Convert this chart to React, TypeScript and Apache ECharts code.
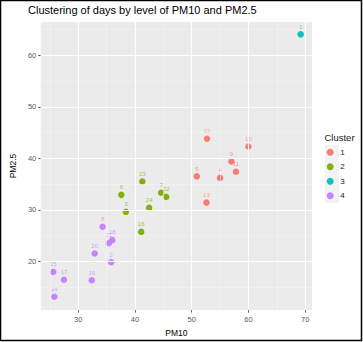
import React, { useEffect, useRef } from "react";
import * as echarts from "echarts";

const dayIds = ["1","2","3","4","5","6","7","8","9","10","11","12","13","14","15","16","17","18","19","20","21","22","23","24"];
const pm10 = [69.2, 35.8, 38.4, 55.0, 50.9, 37.6, 44.6, 34.3, 57.0, 60.0, 57.8, 52.7, 52.6, 25.8, 25.6, 41.1, 27.5, 36.0, 32.4, 32.9, 35.4, 45.5, 41.3, 42.5];
const pm25 = [64.1, 19.8, 29.6, 36.2, 36.5, 32.9, 33.3, 26.7, 39.4, 42.3, 37.4, 43.8, 31.4, 13.1, 17.9, 25.7, 16.4, 24.1, 16.3, 21.5, 23.5, 32.5, 35.5, 30.4];
const cluster = [3, 4, 2, 1, 1, 2, 2, 4, 1, 1, 1, 1, 1, 4, 4, 2, 4, 4, 4, 4, 4, 2, 2, 2];
const clusterNames = ["1", "2", "3", "4"];
const clusterColors = ["#F8766D", "#7CAE00", "#00BFC4", "#C77CFF"];
const xMajor = [30, 40, 50, 60, 70];
const xMinor = [25, 35, 45, 55, 65];
const yMajor = [20, 30, 40, 50, 60];
const yMinor = [15, 25, 35, 45, 55, 65];

const FONT = "Liberation Sans, Arial, sans-serif";

function hexA(hex: string, a: number) {
  const r = parseInt(hex.slice(1, 3), 16);
  const g = parseInt(hex.slice(3, 5), 16);
  const b = parseInt(hex.slice(5, 7), 16);
  return `rgba(${r},${g},${b},${a})`;
}

export default function App() {
  const ref = useRef<HTMLDivElement>(null);
  useEffect(() => {
    if (!ref.current) return;
    const chart = echarts.init(ref.current, undefined, { renderer: "svg" });

    const gridLines: any[] = [];
    xMinor.forEach((v) => gridLines.push({ xAxis: v, lineStyle: { color: "#F5F5F5", width: 0.6, type: "solid" } }));
    yMinor.forEach((v) => gridLines.push({ yAxis: v, lineStyle: { color: "#F5F5F5", width: 0.6, type: "solid" } }));
    xMajor.forEach((v) => gridLines.push({ xAxis: v, lineStyle: { color: "#FFFFFF", width: 1.1, type: "solid" } }));
    yMajor.forEach((v) => gridLines.push({ yAxis: v, lineStyle: { color: "#FFFFFF", width: 1.1, type: "solid" } }));

    const pointSeries = clusterNames.map((name, ci) => {
      const data: any[] = [];
      dayIds.forEach((id, i) => {
        if (cluster[i] === ci + 1) data.push({ value: [pm10[i], pm25[i]], name: id });
      });
      return {
        type: "scatter",
        name,
        z: 3,
        symbol: "circle",
        symbolSize: 6.5,
        itemStyle: { color: clusterColors[ci], opacity: 0.95 },
        label: {
          show: true,
          position: "top",
          distance: 1.5,
          formatter: (p: any) => p.name,
          fontSize: 6,
          fontFamily: FONT,
          color: hexA(clusterColors[ci], 0.75),
        },
        data,
      };
    });

    const option: any = {
      animation: false,
      backgroundColor: "#FFFFFF",
      textStyle: { fontFamily: FONT },
      title: {
        text: "Clustering of days by level of PM10 and PM2.5",
        left: 28,
        top: 4,
        padding: 0,
        textStyle: { fontSize: 11, fontWeight: "normal", color: "#000", fontFamily: FONT },
      },
      grid: {
        left: 29,
        top: 22,
        width: 283,
        height: 290,
        show: true,
        backgroundColor: "#EBEBEB",
        borderWidth: 0,
      },
      xAxis: {
        type: "value",
        min: 23.4,
        max: 71.2,
        name: "PM10",
        nameLocation: "middle",
        nameGap: 14.5,
        nameTextStyle: { fontSize: 8.5, color: "#000", fontFamily: FONT },
        axisLine: { show: false },
        splitLine: { show: false },
        axisTick: { show: true, length: 2.5, lineStyle: { color: "#333", width: 0.8 }, customValues: xMajor },
        axisLabel: { fontSize: 7.5, color: "#5A5A5A", margin: 5, customValues: xMajor, fontFamily: FONT },
      },
      yAxis: {
        type: "value",
        min: 10.5,
        max: 66.5,
        name: "PM2.5",
        nameLocation: "middle",
        nameGap: 16,
        nameRotate: 90,
        nameTextStyle: { fontSize: 8.5, color: "#000", fontFamily: FONT },
        axisLine: { show: false },
        splitLine: { show: false },
        axisTick: { show: true, length: 2.5, lineStyle: { color: "#333", width: 0.8 }, customValues: yMajor },
        axisLabel: { fontSize: 7.5, color: "#5A5A5A", margin: 4.5, customValues: yMajor, fontFamily: FONT },
      },
      legend: {
        orient: "vertical",
        left: 326.7,
        top: 147.3,
        padding: 0,
        itemGap: 4.47,
        itemWidth: 10,
        itemHeight: 7,
        icon: "circle",
        data: clusterNames,
        textStyle: { fontSize: 8, color: "#1A1A1A", lineHeight: 10, fontFamily: FONT },
      },
      graphic: [
        {
          type: "rect",
          z: -1,
          silent: true,
          shape: { x: 325, y: 145, width: 14, height: 58 },
          style: { fill: "#F2F2F2" },
        },
        {
          type: "text",
          silent: true,
          x: 339.5,
          y: 137,
          style: {
            text: "Cluster",
            fontSize: 9.5,
            fontFamily: FONT,
            fill: "#1A1A1A",
            textAlign: "center",
            textVerticalAlign: "middle",
          },
        },
        {
          type: "rect",
          z: 100,
          silent: true,
          shape: { x: 0.5, y: 0.5, width: 361, height: 340 },
          style: { fill: "none", stroke: "#000", lineWidth: 1.5 },
        },
      ],
      series: [
        {
          type: "scatter",
          name: "grid",
          z: 1,
          data: [],
          silent: true,
          markLine: {
            silent: true,
            symbol: ["none", "none"],
            label: { show: false },
            animation: false,
            data: gridLines,
          },
        },
        ...pointSeries,
      ],
    };
    chart.setOption(option);
    return () => chart.dispose();
  }, []);

  return (
    <div
      ref={ref}
      style={{ position: "fixed", left: 0, top: 0, width: 363, height: 342 }}
    />
  );
}
